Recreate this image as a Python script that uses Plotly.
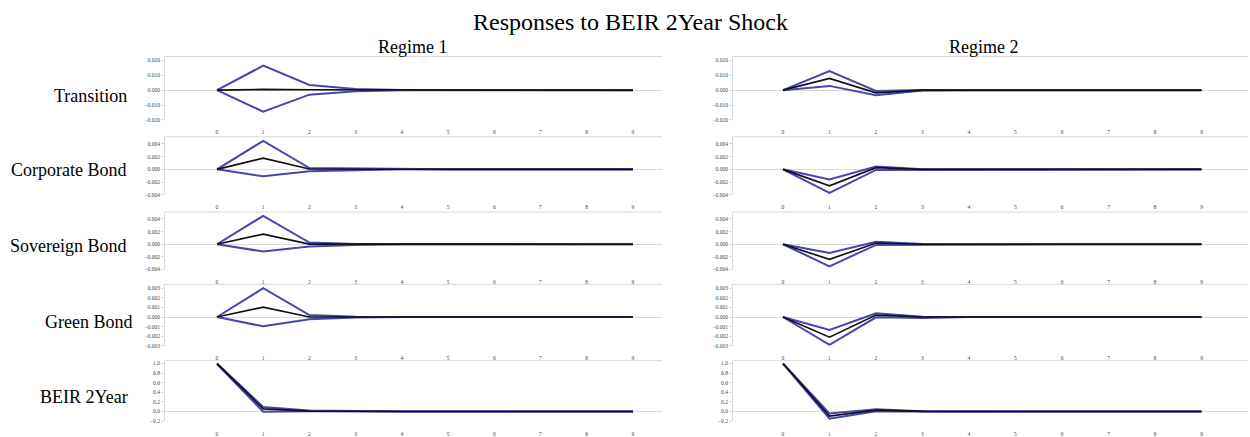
import plotly.graph_objects as go

horizon = [0, 1, 2, 3, 4, 5, 6, 7, 8, 9]
regimes = ["Regime 1", "Regime 2"]
responses = ["Transition", "Corporate Bond", "Sovereign Bond", "Green Bond", "BEIR 2Year"]

# Regime 1 responses (lower band, point estimate, upper band)
trans_r1_lo = [0.0, -0.0145, -0.0030, -0.0007, -0.0001, 0.0, 0.0, 0.0, 0.0, 0.0]
trans_r1_mid = [0.0, 0.0005, 0.0003, 0.0001, 0.0, 0.0, 0.0, 0.0, 0.0, 0.0]
trans_r1_hi = [0.0, 0.0165, 0.0035, 0.0008, 0.0001, 0.0, 0.0, 0.0, 0.0, 0.0]
corp_r1_lo = [0.0, -0.0011, -0.0003, -0.0001, 0.0, 0.0, 0.0, 0.0, 0.0, 0.0]
corp_r1_mid = [0.0, 0.00175, 0.00005, 0.0, 0.0, 0.0, 0.0, 0.0, 0.0, 0.0]
corp_r1_hi = [0.0, 0.0045, 0.0002, 0.0001, 0.0, 0.0, 0.0, 0.0, 0.0, 0.0]
sov_r1_lo = [0.0, -0.00115, -0.00036, -0.0001, 0.0, 0.0, 0.0, 0.0, 0.0, 0.0]
sov_r1_mid = [0.0, 0.0016, 0.00002, 0.0, 0.0, 0.0, 0.0, 0.0, 0.0, 0.0]
sov_r1_hi = [0.0, 0.0045, 0.00026, 0.00005, 0.0, 0.0, 0.0, 0.0, 0.0, 0.0]
green_r1_lo = [0.0, -0.00097, -0.00024, -0.00005, 0.0, 0.0, 0.0, 0.0, 0.0, 0.0]
green_r1_mid = [0.0, 0.00103, 0.0, 0.0, 0.0, 0.0, 0.0, 0.0, 0.0, 0.0]
green_r1_hi = [0.0, 0.0030, 0.0002, 0.00003, 0.0, 0.0, 0.0, 0.0, 0.0, 0.0]
beir_r1_lo = [0.99, -0.005, 0.003, 0.0, 0.0, 0.0, 0.0, 0.0, 0.0, 0.0]
beir_r1_mid = [1.0, 0.055, 0.010, 0.001, 0.0, 0.0, 0.0, 0.0, 0.0, 0.0]
beir_r1_hi = [1.0, 0.096, 0.020, 0.003, 0.0, 0.0, 0.0, 0.0, 0.0, 0.0]

# Regime 2 responses
trans_r2_lo = [0.0, 0.0029, -0.0034, -0.0002, 0.0, 0.0, 0.0, 0.0, 0.0, 0.0]
trans_r2_mid = [0.0, 0.0079, -0.0018, 0.0, 0.0, 0.0, 0.0, 0.0, 0.0, 0.0]
trans_r2_hi = [0.0, 0.0128, -0.0005, 0.0002, 0.0, 0.0, 0.0, 0.0, 0.0, 0.0]
corp_r2_lo = [0.0, -0.0037, -0.0001, -0.0001, 0.0, 0.0, 0.0, 0.0, 0.0, 0.0]
corp_r2_mid = [0.0, -0.0026, 0.00026, 0.0, 0.0, 0.0, 0.0, 0.0, 0.0, 0.0]
corp_r2_hi = [0.0, -0.0016, 0.00046, 0.00003, 0.0, 0.0, 0.0, 0.0, 0.0, 0.0]
sov_r2_lo = [0.0, -0.0035, -0.0001, -0.00005, 0.0, 0.0, 0.0, 0.0, 0.0, 0.0]
sov_r2_mid = [0.0, -0.0024, 0.0002, 0.0, 0.0, 0.0, 0.0, 0.0, 0.0, 0.0]
sov_r2_hi = [0.0, -0.0014, 0.0004, 0.00005, 0.0, 0.0, 0.0, 0.0, 0.0, 0.0]
green_r2_lo = [0.0, -0.0029, -0.00003, -0.0001, 0.0, 0.0, 0.0, 0.0, 0.0, 0.0]
green_r2_mid = [0.0, -0.0021, 0.0002, 0.0, 0.0, 0.0, 0.0, 0.0, 0.0, 0.0]
green_r2_hi = [0.0, -0.00136, 0.00038, 0.00003, 0.0, 0.0, 0.0, 0.0, 0.0, 0.0]
beir_r2_lo = [1.0, -0.15, 0.007, 0.0, 0.0, 0.0, 0.0, 0.0, 0.0, 0.0]
beir_r2_mid = [1.0, -0.096, 0.027, 0.001, 0.0, 0.0, 0.0, 0.0, 0.0, 0.0]
beir_r2_hi = [1.0, -0.04, 0.048, 0.003, 0.0, 0.0, 0.0, 0.0, 0.0, 0.0]

# y tick labels per response
trans_ticks = [-0.020, -0.010, 0.0, 0.010, 0.020]
bond4_ticks = [-0.004, -0.002, 0.0, 0.002, 0.004]
green_ticks = [-0.003, -0.002, -0.001, 0.0, 0.001, 0.002, 0.003]
beir_ticks = [-0.2, 0.0, 0.2, 0.4, 0.6, 0.8, 1.0]

series = [
    [(trans_r1_lo, trans_r1_mid, trans_r1_hi), (trans_r2_lo, trans_r2_mid, trans_r2_hi)],
    [(corp_r1_lo, corp_r1_mid, corp_r1_hi), (corp_r2_lo, corp_r2_mid, corp_r2_hi)],
    [(sov_r1_lo, sov_r1_mid, sov_r1_hi), (sov_r2_lo, sov_r2_mid, sov_r2_hi)],
    [(green_r1_lo, green_r1_mid, green_r1_hi), (green_r2_lo, green_r2_mid, green_r2_hi)],
    [(beir_r1_lo, beir_r1_mid, beir_r1_hi), (beir_r2_lo, beir_r2_mid, beir_r2_hi)],
]
ticks = [trans_ticks, bond4_ticks, bond4_ticks, green_ticks, beir_ticks]
tickfmt = [".3f", ".3f", ".3f", ".3f", ".1f"]

# layout (pixels in a 1250x437 page)
W, H = 1250, 437
col_px = [(165, 662), (733, 1248)]
col_range = [[-1.125, 9.63], [-1.075, 10.0]]
row_px = [(57, 121), (138, 196.5), (214, 272), (287, 349), (364, 425)]
row_range = [[-0.020, 0.0227], [-0.004, 0.00514], [-0.004, 0.0051], [-0.003, 0.0034], [-0.2, 1.06]]
label_x = [90, 68, 68, 88, 84]
label_y = [97, 172, 248, 325, 401]

BLUE = "#4646b0"
BLACK = "#111111"
GRID = "#d9d9d9"
SERIF = "Liberation Serif, Times New Roman, serif"

fig = go.Figure()
layout = {}
shapes = []
annotations = []
k = 0
for r in range(5):
    for c in range(2):
        k += 1
        xa = "x" if k == 1 else f"x{k}"
        ya = "y" if k == 1 else f"y{k}"
        lo, mid, hi = series[r][c]
        for vals, col, w in ((hi, BLUE, 2.0), (lo, BLUE, 2.0), (mid, BLACK, 1.7)):
            fig.add_trace(go.Scatter(x=horizon, y=vals, mode="lines",
                                     line=dict(color=col, width=w),
                                     xaxis=xa, yaxis=ya, showlegend=False,
                                     hoverinfo="skip"))
        x0, x1 = col_px[c]
        yt, yb = row_px[r]
        layout["xaxis" if k == 1 else f"xaxis{k}"] = dict(
            domain=[x0 / W, x1 / W], anchor=ya, range=col_range[c],
            tickvals=horizon, ticktext=[str(h) for h in horizon],
            showgrid=False, zeroline=False, showline=False,
            ticks="", ticklabelstandoff=8,
            tickfont=dict(family=SERIF, size=5.5, color="#444444"),
        )
        layout["yaxis" if k == 1 else f"yaxis{k}"] = dict(
            domain=[1 - yb / H, 1 - yt / H], anchor=xa, range=row_range[r],
            tickvals=ticks[r], tickformat=tickfmt[r],
            showgrid=False, zeroline=True, zerolinecolor=GRID, zerolinewidth=1,
            showline=True, linecolor=GRID, linewidth=1,
            ticks="outside", ticklen=3, tickcolor=GRID,
            tickfont=dict(family=SERIF, size=5.5, color="#444444"),
        )
        shapes.append(dict(type="line", xref=f"{xa} domain", yref=f"{ya} domain",
                           x0=0, x1=1, y0=1, y1=1,
                           line=dict(color=GRID, width=1)))
    annotations.append(dict(text=responses[r], x=label_x[r] / W, y=1 - label_y[r] / H,
                            xref="paper", yref="paper", showarrow=False,
                            xanchor="center", yanchor="middle",
                            font=dict(family=SERIF, size=18, color="#000000")))

annotations.append(dict(text="Responses to BEIR 2Year Shock", x=630 / W, y=1 - 22 / H,
                        xref="paper", yref="paper", showarrow=False,
                        xanchor="center", yanchor="middle",
                        font=dict(family=SERIF, size=24, color="#000000")))
for c, cx in enumerate([413, 984]):
    annotations.append(dict(text=regimes[c], x=cx / W, y=1 - 47 / H,
                            xref="paper", yref="paper", showarrow=False,
                            xanchor="center", yanchor="middle",
                            font=dict(family=SERIF, size=18, color="#000000")))

fig.update_layout(**layout)
fig.update_layout(width=W, height=H, margin=dict(l=0, r=0, t=0, b=0),
                  paper_bgcolor="white", plot_bgcolor="white",
                  shapes=shapes, annotations=annotations, showlegend=False)
fig.write_html("out.html")
